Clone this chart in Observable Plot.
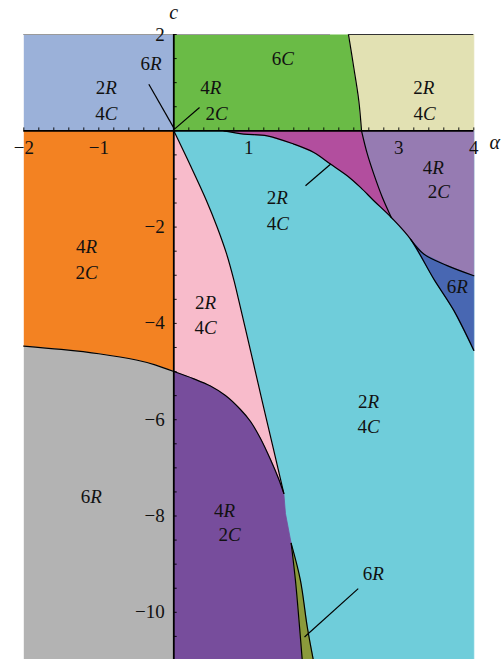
<!DOCTYPE html>
<html>
<head>
<meta charset="utf-8">
<script src="https://cdn.jsdelivr.net/npm/d3@7"></script>
<script src="https://cdn.jsdelivr.net/npm/@observablehq/plot@0.6"></script>
<style>
  html, body { margin: 0; padding: 0; background: #fff; overflow: hidden; }
  #chart svg { display: block; }
</style>
</head>
<body>
<div id="chart"></div>
<script>
// ---- data (alpha on x, c on y) ----
const xDomain = [-2, 4];
const yDomain = [-10.98, 2];
const yMin = yDomain[0];

const orangeGrayEdge = [[-2,-4.47],[-1.5,-4.54],[-1,-4.63],[-0.5,-4.76],[-0.25,-4.86],[0,-5.0]];
const pinkCyanEdge = [[0,0],[0.223,-0.726],[0.436,-1.452],[0.576,-1.992],[0.703,-2.552],[0.803,-3.112],[0.867,-3.527],[1.023,-4.564],[1.177,-5.602],[1.333,-6.639],[1.467,-7.531]];
const purpleTopEdge = [[0,-5.0],[0.267,-5.151],[0.489,-5.301],[0.689,-5.498],[0.889,-5.788],[1.023,-6.037],[1.156,-6.390],[1.289,-6.826],[1.396,-7.220],[1.467,-7.531]];
const purpleCyanEdge = [[1.467,-7.531],[1.489,-7.95],[1.565,-8.57]];
const purpleOliveEdge = [[1.565,-8.57],[1.622,-9.34],[1.68,-10.37],[1.712,-10.98]];
const oliveCyanEdge = [[1.565,-8.57],[1.689,-9.34],[1.779,-10.30],[1.859,-10.98]];
const magentaCyanEdge = [[0.667,0],[0.933,-0.068],[1.245,-0.104],[1.6,-0.276],[1.867,-0.45],[2.089,-0.69],[2.312,-0.934],[2.489,-1.176],[2.667,-1.452],[2.9,-1.8]];
const lavenderCyanEdge = [[2.9,-1.8],[3.156,-2.25]];
const blueCyanEdge = [[3.156,-2.25],[3.467,-3.08],[3.733,-3.73],[4,-4.56]];
const magentaLavenderEdge = [[2.503,0],[2.58,-0.48],[2.667,-0.9],[2.78,-1.38],[2.9,-1.8]];
const blueLavenderEdge = [[3.156,-2.25],[3.333,-2.56],[3.645,-2.80],[4,-3.01]];
const greenBeigeEdge = [[2.329,2],[2.40,1.31],[2.467,0.62],[2.503,0]];

const regionColors = {
  lightBlue: "#9BB1D9", green: "#6ABB46", beige: "#E2E1B3", orange: "#F38222",
  gray: "#B3B3B3", cyan: "#6FCDDA", pink: "#F8BBCB", purple: "#774D9C",
  olive: "#8B9A3B", magenta: "#B24E9E", lavender: "#967BB2", blue: "#4867B2"
};

const regionLabels = [
  {text: "6R", x: -0.304, y: 1.384},
  {text: "2R", x: -0.901, y: 0.882}, {text: "4C", x: -0.900, y: 0.353},
  {text: "4R", x: 0.493, y: 0.882}, {text: "2C", x: 0.572, y: 0.346},
  {text: "6C", x: 1.453, y: 1.487},
  {text: "2R", x: 3.333, y: 0.886}, {text: "4C", x: 3.343, y: 0.346},
  {text: "4R", x: 3.459, y: -0.761}, {text: "2C", x: 3.533, y: -1.259},
  {text: "2R", x: 1.379, y: -1.40}, {text: "4C", x: 1.387, y: -1.94},
  {text: "4R", x: -1.164, y: -2.407}, {text: "2C", x: -1.164, y: -2.946},
  {text: "2R", x: 0.423, y: -3.568}, {text: "4C", x: 0.423, y: -4.087},
  {text: "6R", x: 3.779, y: -3.25},
  {text: "2R", x: 2.596, y: -5.622}, {text: "4C", x: 2.596, y: -6.141},
  {text: "6R", x: -1.101, y: -7.608},
  {text: "4R", x: 0.676, y: -7.884}, {text: "2C", x: 0.743, y: -8.402},
  {text: "6R", x: 2.659, y: -9.212}
];

const leaderLines = [
  {x1: -0.333, y1: 0.967, x2: 0.009, y2: 0.035},
  {x1: 0.343, y1: 0.483, x2: 0.009, y2: 0.035},
  {x1: 1.756, y1: -1.141, x2: 2.093, y2: -0.691},
  {x1: 2.459, y1: -9.508, x2: 1.743, y2: -10.512}
];

const xTickLabels = [-2, -1, 1, 3, 4];
const yTickLabels = [2, -2, -4, -6, -8, -10];
const xMinorStep = 0.2;
const yMinorStep = 0.5;

const topFrame = [
  {x1: -2, x2: 2.09, stroke: "#9a9a9a"},
  {x1: 2.329, x2: 4, stroke: "#333333"}
];

// ---- build polygons from the edges ----
const rev = a => a.slice().reverse();
const regions = [
  {color: regionColors.lightBlue, poly: [[-2,0],[0,0],[0,2],[-2,2]]},
  {color: regionColors.green, poly: [[0,2],[0,0], ...rev(greenBeigeEdge)]},
  {color: regionColors.beige, poly: [...greenBeigeEdge, [4,0],[4,2]]},
  {color: regionColors.orange, poly: [[-2,0],[0,0], ...rev(orangeGrayEdge)]},
  {color: regionColors.gray, poly: [...orangeGrayEdge, [0,yMin],[-2,yMin]]},
  {color: regionColors.cyan, poly: [[0,0],[4,0],[4,yMin],[0,yMin]]},
  {color: regionColors.pink, poly: [...pinkCyanEdge, ...rev(purpleTopEdge)]},
  {color: regionColors.purple, poly: [...purpleTopEdge, ...purpleCyanEdge.slice(1), ...purpleOliveEdge.slice(1), [0,yMin]]},
  {color: regionColors.olive, poly: [...purpleOliveEdge, ...rev(oliveCyanEdge)]},
  {color: regionColors.magenta, poly: [[0.667,0], ...magentaLavenderEdge, ...rev(magentaCyanEdge)]},
  {color: regionColors.lavender, poly: [[2.503,0],[4,0], ...rev(blueLavenderEdge), ...rev(lavenderCyanEdge), ...rev(magentaLavenderEdge)]},
  {color: regionColors.blue, poly: [...blueLavenderEdge, ...rev(blueCyanEdge)]}
];

const edges = [orangeGrayEdge, pinkCyanEdge, purpleTopEdge, purpleOliveEdge, oliveCyanEdge,
  [...magentaCyanEdge, ...lavenderCyanEdge.slice(1), ...blueCyanEdge.slice(1)],
  magentaLavenderEdge, blueLavenderEdge, greenBeigeEdge];

const xMinorTicks = d3.range(xDomain[0], xDomain[1] + 1e-9, xMinorStep);
const yMinorTicks = d3.range(0, yDomain[1] + 1e-9, yMinorStep).concat(d3.range(-yMinorStep, yMin, -yMinorStep));

const px = d => d[0], py = d => d[1];
const serif = "'Liberation Serif', 'Times New Roman', serif";

const marks = [];
for (const r of regions) {
  marks.push(Plot.line(r.poly, {x: px, y: py, fill: r.color, stroke: r.color, strokeWidth: 0.8}));
}
for (const e of edges) {
  marks.push(Plot.line(e, {x: px, y: py, stroke: "#000", strokeWidth: 1.2, curve: "catmull-rom"}));
}
marks.push(
  Plot.ruleY(topFrame, {y: () => 2, x1: "x1", x2: "x2", stroke: "stroke", strokeWidth: 1}),
  Plot.ruleY([0], {x1: xDomain[0], x2: xDomain[1], stroke: "#000", strokeWidth: 1.8}),
  Plot.ruleX([0], {y1: yMin, y2: 2, stroke: "#000", strokeWidth: 1.8}),
  Plot.ruleX(xMinorTicks, {y1: 0, y2: 0.06, stroke: "#000", strokeWidth: 0.9}),
  Plot.ruleY(yMinorTicks, {x1: 0, x2: 0.045, stroke: "#000", strokeWidth: 0.9}),
  Plot.link(leaderLines, {x1: "x1", y1: "y1", x2: "x2", y2: "y2", stroke: "#000", strokeWidth: 1.2}),
  Plot.text(xTickLabels, {x: d => d, y: () => 0, dy: 17, text: d => d < 0 ? "\u2212" + Math.abs(d) : String(d), fontSize: 19, fontFamily: serif, fill: "#111"}),
  Plot.text(yTickLabels, {x: () => 0, y: d => d, dx: -9, textAnchor: "end", text: d => d < 0 ? "\u2212" + Math.abs(d) : String(d), fontSize: 19, fontFamily: serif, fill: "#111"}),
  Plot.text(["c"], {x: () => 0, y: () => 2, dy: -22, text: d => d, fontSize: 20, fontStyle: "italic", fontFamily: serif, fill: "#111"}),
  Plot.text(["\u03B1"], {x: () => 4, y: () => 0, dx: 21, dy: 12, text: d => d, fontSize: 20, fontStyle: "italic", fontFamily: serif, fill: "#111"}),
  Plot.text(regionLabels, {x: "x", y: "y", text: "text", fontSize: 19, fontFamily: serif, fill: "#111"})
);

const chart = Plot.plot({
  width: 501,
  height: 659,
  marginLeft: 23.3,
  marginRight: 27.7,
  marginTop: 34,
  marginBottom: 0,
  x: {domain: xDomain, axis: null},
  y: {domain: yDomain, axis: null},
  style: {background: "transparent", overflow: "visible"},
  marks
});

// numbers upright, letters italic (as in the reference)
d3.select(chart).selectAll("text").each(function() {
  const s = this.textContent;
  if (!/^[0-9][RC]$/.test(s)) return;
  const t = d3.select(this);
  t.text(null);
  t.append("tspan").text(s[0]);
  t.append("tspan").attr("font-style", "italic").style("font-style", "italic").text(s.slice(1));
});

document.getElementById("chart").appendChild(chart);
</script>
</body>
</html>
